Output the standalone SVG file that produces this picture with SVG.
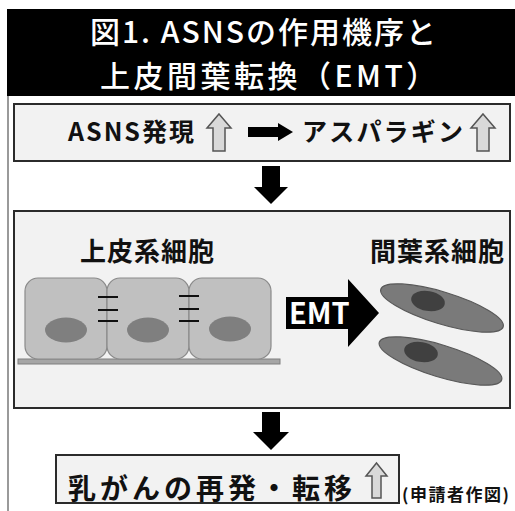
<svg xmlns="http://www.w3.org/2000/svg" width="515" height="511" viewBox="0 0 515 511">
  <style>
    .jp { font-family: "Noto Sans CJK JP", "Noto Sans", sans-serif; font-weight: bold; fill: #111; }
    .hd { font-family: "Noto Sans CJK JP", "Noto Sans", sans-serif; font-weight: 500; fill: #fff; font-size: 30px; }
    .box { fill: #f2f2f2; stroke: #2b2b2b; stroke-width: 2; }
    .up { fill: #d9d9d9; stroke: #555; stroke-width: 1.5; stroke-linejoin: miter; }
    .epi { fill: #c0c0c0; stroke: #8a8a8a; stroke-width: 1.2; }
    .epinuc { fill: #7f7f7f; }
    .mes { fill: #7a7a7a; stroke: #595959; stroke-width: 1.2; }
    .mesnuc { fill: #404040; }
    .junc { stroke: #111; stroke-width: 2; }
    .solid { fill: #000; }
  </style>

  <rect width="515" height="511" fill="#fff"/>
  <!-- left margin rule -->
  <line x1="8" y1="9" x2="8" y2="511" stroke="#9a9a9a" stroke-width="2"/>

  <!-- title banner -->
  <g id="title">
    <rect x="7" y="9" width="508" height="87" fill="#000"/>
    <text class="hd" x="90" y="43" letter-spacing="2">図1. ASNSの作用機序と</text>
    <text class="hd" x="100" y="87" letter-spacing="3.5">上皮間葉転換（EMT）</text>
  </g>

  <!-- ASNS expression box -->
  <g id="asns">
    <rect class="box" x="14" y="104" width="496" height="57"/>
    <text class="jp" x="68" y="141" font-size="25" letter-spacing="2">ASNS発現</text>
    <polygon class="up" points="219,114 231,128 225,128 225,151 213,151 213,128 207,128"/>
    <polygon class="solid" points="248,127 278,127 278,123 293,132 278,141 278,137 248,137"/>
    <text class="jp" x="302" y="141" font-size="25" letter-spacing="2.2">アスパラギン</text>
    <polygon class="up" points="483,114 495,128 489,128 489,151 477,151 477,128 471,128"/>
  </g>

  <!-- EMT panel -->
  <g id="emt">
    <rect class="box" x="14" y="211" width="496" height="197"/>
    <text class="jp" x="80" y="261" font-size="26" letter-spacing="1">上皮系細胞</text>
    <text class="jp" x="370" y="261" font-size="26" letter-spacing="1">間葉系細胞</text>

    <!-- epithelial sheet -->
    <g id="epithelium">
      <rect x="18" y="359" width="262" height="5" fill="#a6a6a6" stroke="#7f7f7f" stroke-width="1"/>
      <rect class="epi" x="25" y="278" width="82" height="81" rx="13"/>
      <rect class="epi" x="107" y="278" width="82" height="81" rx="13"/>
      <rect class="epi" x="189" y="278" width="82" height="81" rx="13"/>
      <ellipse class="epinuc" cx="66" cy="330" rx="21" ry="12.5"/>
      <ellipse class="epinuc" cx="148" cy="330" rx="21" ry="12.5"/>
      <ellipse class="epinuc" cx="230" cy="329" rx="21" ry="12.5"/>
      <line class="junc" x1="98" y1="297" x2="118" y2="297"/>
      <line class="junc" x1="98" y1="310" x2="118" y2="310"/>
      <line class="junc" x1="98" y1="321" x2="118" y2="321"/>
      <line class="junc" x1="179" y1="296" x2="199" y2="296"/>
      <line class="junc" x1="179" y1="309" x2="199" y2="309"/>
      <line class="junc" x1="179" y1="321" x2="199" y2="321"/>
    </g>

    <!-- transition arrow -->
    <polygon class="solid" points="286,297 348,297 348,279 379,313 348,347 348,329 286,329"/>
    <text x="289" y="324" font-family="'Noto Sans CJK JP', 'Noto Sans', sans-serif" font-weight="bold" font-size="29" fill="#fff">EMT</text>

    <!-- mesenchymal cells -->
    <g id="mesenchyme">
      <ellipse class="mes" cx="442" cy="308" rx="64" ry="16" transform="rotate(17 442 308)"/>
      <ellipse class="mesnuc" cx="428" cy="301" rx="17" ry="10" transform="rotate(10 428 301)"/>
      <ellipse class="mes" cx="440.5" cy="361" rx="64" ry="16" transform="rotate(17 440.5 361)"/>
      <ellipse class="mesnuc" cx="421" cy="352" rx="17" ry="10" transform="rotate(10 421 352)"/>
    </g>
  </g>

  <!-- outcome box -->
  <g id="outcome">
    <rect class="box" x="56" y="455" width="343" height="48" stroke-width="1.8"/>
    <text class="jp" x="68" y="499" font-size="28" letter-spacing="4">乳がんの再発・転移</text>
    <polygon class="up" points="376.5,463 387,476 381,476 381,498 372,498 372,476 366,476"/>
  </g>

  <text class="jp" x="402" y="501" font-size="17" letter-spacing="1.5">(申請者作図)</text>

  <!-- flow arrows between stages -->
  <g id="connectors">
    <polygon class="solid" points="262,166 280,166 280,187 288,187 271,204 254,187 262,187"/>
    <polygon class="solid" points="262,412 280,412 280,432 289,432 271,450 253,432 262,432"/>
  </g>
</svg>
